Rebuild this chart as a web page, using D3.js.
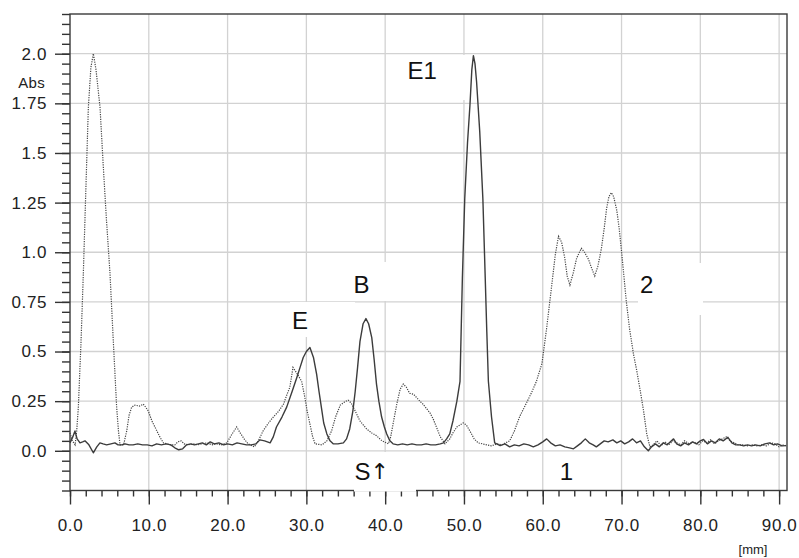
<!DOCTYPE html>
<meta charset="utf-8">
<title>Densitogram</title>
<script src="https://d3js.org/d3.v7.min.js"></script>
<style>
  body { margin: 0; background: #fff; }
  text { font-family: "Liberation Sans", Arial, sans-serif; }
</style>
<body>
<div id="my_dataviz"></div>
<script>

// tick values and labels
var xTicks = [0, 10, 20, 30, 40, 50, 60, 70, 80, 90];
var xLabels = ["0.0", "10.0", "20.0", "30.0", "40.0", "50.0", "60.0", "70.0", "80.0", "90.0"];
var yTicks = [0, 0.25, 0.5, 0.75, 1.0, 1.25, 1.5, 1.75, 2.0];
var yLabels = ["0.0", "0.25", "0.5", "0.75", "1.0", "1.25", "1.5", "1.75", "2.0"];

// track 1 (solid) : position [mm] / Abs
var solidX = [0.0, 0.35, 0.63, 0.9, 1.27, 1.6, 1.9, 2.4, 2.96, 3.4, 3.8, 4.2, 4.65, 5.2, 5.7, 6.1, 6.55, 7.0, 7.5, 8.0,
  8.6, 9.2, 9.8, 10.4, 11.0, 11.6, 12.2, 12.8, 13.3, 13.8, 14.3, 14.8, 15.3, 15.8, 16.3, 16.8, 17.3, 17.8, 18.3, 18.9,
  19.5, 20.0, 20.6, 21.2, 21.8, 22.4, 23.0, 23.6, 24.1, 24.7, 25.4, 25.8, 26.2, 26.9, 27.5, 28.2, 28.8, 29.2, 29.6, 30.0,
  30.45, 30.9, 31.3, 31.6, 31.9, 32.2, 32.6, 33.0, 33.4, 34.0, 34.7, 35.1, 35.5, 35.9, 36.2, 36.5, 36.8, 37.2, 37.56, 37.9,
  38.3, 38.6, 38.9, 39.2, 39.55, 39.9, 40.2, 40.6, 41.0, 41.6, 42.2, 42.8, 43.4, 44.0, 44.6, 45.2, 45.8, 46.4, 47.0, 47.4,
  47.8, 48.2, 48.6, 49.1, 49.5, 49.8, 50.1, 50.45, 50.76, 51.0, 51.2, 51.4, 51.6, 52.0, 52.4, 52.7, 52.9, 53.1, 53.5, 53.9,
  54.6, 55.2, 55.8, 56.4, 57.0, 57.6, 58.2, 58.8, 59.4, 60.0, 60.5, 61.0, 61.6, 62.2, 62.8, 63.4, 63.9, 64.4, 64.9, 65.4,
  65.9, 66.4, 66.8, 67.3, 67.8, 68.3, 68.9, 69.4, 69.9, 70.4, 70.9, 71.4, 71.9, 72.4, 72.9, 73.4, 73.8, 74.3, 74.8, 75.3,
  75.8, 76.2, 76.6, 77.0, 77.5, 78.0, 78.5, 79.0, 79.5, 80.0, 80.4, 80.9, 81.4, 81.9, 82.4, 82.9, 83.5, 84.0, 84.5, 85.0,
  85.5, 86.0, 86.5, 87.0, 87.6, 88.2, 88.8, 89.3, 89.8, 90.4, 90.9];
var solidY = [0.04, 0.07, 0.10, 0.06, 0.04, 0.045, 0.05, 0.03, -0.01, 0.02, 0.04, 0.035, 0.03, 0.035, 0.04, 0.03, 0.03, 0.035, 0.03, 0.03,
  0.035, 0.03, 0.03, 0.025, 0.035, 0.03, 0.035, 0.03, 0.015, 0.005, 0.01, 0.03, 0.035, 0.03, 0.035, 0.04, 0.03, 0.045, 0.035, 0.04,
  0.03, 0.035, 0.03, 0.04, 0.035, 0.03, 0.03, 0.035, 0.055, 0.05, 0.04, 0.07, 0.12, 0.17, 0.22, 0.30, 0.37, 0.42, 0.47, 0.50,
  0.52, 0.47, 0.386, 0.30, 0.22, 0.14, 0.085, 0.05, 0.035, 0.035, 0.04, 0.06, 0.11, 0.20, 0.30, 0.42, 0.55, 0.64, 0.666, 0.64,
  0.57, 0.46, 0.336, 0.25, 0.17, 0.12, 0.085, 0.05, 0.035, 0.03, 0.035, 0.03, 0.035, 0.03, 0.03, 0.035, 0.03, 0.03, 0.035, 0.04,
  0.06, 0.085, 0.15, 0.25, 0.35, 0.87, 1.27, 1.55, 1.74, 1.92, 1.99, 1.95, 1.86, 1.61, 1.27, 0.87, 0.6, 0.35, 0.17, 0.04,
  0.026, 0.035, 0.02, 0.03, 0.025, 0.035, 0.03, 0.02, 0.03, 0.045, 0.06, 0.04, 0.025, 0.03, 0.02, 0.015, 0.01, 0.025, 0.04, 0.06,
  0.04, 0.03, 0.02, 0.035, 0.05, 0.045, 0.055, 0.04, 0.05, 0.035, 0.045, 0.06, 0.04, 0.05, 0.02, 0.0, 0.02, 0.035, 0.02, 0.04,
  0.03, 0.045, 0.06, 0.035, 0.025, 0.04, 0.03, 0.045, 0.035, 0.05, 0.057, 0.035, 0.05, 0.04, 0.06, 0.05, 0.068, 0.04, 0.03, 0.03,
  0.025, 0.03, 0.025, 0.03, 0.025, 0.035, 0.04, 0.03, 0.035, 0.025, 0.026];

// track 2 (dotted)
var dotX = [0.0, 0.3, 0.65, 0.85, 1.06, 1.4, 1.69, 2.0, 2.33, 2.65, 2.96, 3.3, 3.81, 4.2, 4.6, 5.08, 5.5, 5.92, 6.15, 6.35,
  6.8, 7.2, 7.5, 7.83, 8.25, 8.8, 9.3, 9.6, 9.94, 10.4, 10.9, 11.4, 11.85, 12.3, 12.8, 13.3, 13.7, 14.1, 14.5, 15.0,
  15.6, 16.2, 16.8, 17.4, 18.0, 18.6, 19.2, 19.9, 20.5, 21.15, 21.6, 22.1, 22.6, 23.4, 23.9, 24.5, 25.2, 25.8, 26.5, 27.1,
  27.5, 27.9, 28.3, 28.8, 29.4, 29.8, 30.1, 30.45, 30.8, 31.1, 32.0, 32.6, 33.2, 33.7, 34.3, 34.8, 35.3, 35.7, 36.2, 36.8,
  37.65, 38.3, 38.9, 39.6, 40.4, 40.7, 41.0, 41.5, 41.9, 42.3, 42.7, 43.1, 43.6, 44.4, 44.8, 45.7, 46.1, 46.6, 47.0, 47.6,
  48.2, 48.6, 49.1, 49.9, 50.3, 50.75, 51.3, 51.8, 52.9, 53.5, 54.2, 54.8, 55.3, 55.8, 56.4, 57.1, 57.8, 58.6, 59.2, 59.9,
  60.5, 61.1, 61.6, 62.0, 62.4, 62.8, 63.1, 63.45, 63.9, 64.3, 64.9, 65.3, 65.8, 66.2, 66.6, 67.0, 67.45, 67.8, 68.1, 68.4,
  68.7, 69.0, 69.4, 69.7, 70.0, 70.3, 70.6, 71.0, 71.5, 71.9, 72.3, 72.8, 73.2, 73.6, 74.0, 74.5, 75.0, 75.5, 76.0, 76.5,
  77.0, 77.5, 78.0, 78.6, 79.2, 79.8, 80.3, 80.8, 81.3, 81.8, 82.3, 82.8, 83.3, 83.8, 84.3, 84.8, 85.4, 86.0, 86.6, 87.2,
  87.8, 88.4, 89.0, 89.5, 90.0, 90.6, 90.9];
var dotY = [0.09, 0.05, 0.03, 0.1, 0.22, 0.55, 0.89, 1.3, 1.73, 1.93, 2.0, 1.92, 1.73, 1.45, 1.18, 0.89, 0.55, 0.22, 0.1, 0.03,
  0.03, 0.1, 0.18, 0.22, 0.23, 0.225, 0.235, 0.22, 0.2, 0.15, 0.11, 0.07, 0.04, 0.035, 0.03, 0.03, 0.045, 0.05, 0.035, 0.03,
  0.035, 0.03, 0.035, 0.04, 0.03, 0.035, 0.03, 0.04, 0.08, 0.12, 0.09, 0.06, 0.035, 0.02, 0.05, 0.10, 0.14, 0.17, 0.2, 0.235,
  0.28, 0.32, 0.42, 0.39, 0.35, 0.27, 0.2, 0.135, 0.07, 0.035, 0.03, 0.05, 0.10, 0.17, 0.23, 0.245, 0.255, 0.24, 0.2, 0.15,
  0.11, 0.09, 0.076, 0.05, 0.035, 0.07, 0.135, 0.24, 0.31, 0.336, 0.32, 0.29, 0.285, 0.25, 0.235, 0.19, 0.16, 0.11, 0.07, 0.035,
  0.06, 0.09, 0.12, 0.14, 0.13, 0.10, 0.06, 0.04, 0.03, 0.025, 0.035, 0.03, 0.04, 0.05, 0.1, 0.175, 0.23, 0.295, 0.35, 0.44,
  0.62, 0.82, 0.99, 1.08, 1.05, 0.97, 0.88, 0.835, 0.9, 0.97, 1.02, 1.0, 0.965, 0.92, 0.88, 0.93, 1.02, 1.12, 1.22, 1.28,
  1.30, 1.28, 1.21, 1.12, 1.005, 0.88, 0.755, 0.62, 0.49, 0.41, 0.32, 0.2, 0.085, 0.02, 0.03, 0.05, 0.025, 0.045, 0.03, 0.05,
  0.04, 0.03, 0.05, 0.035, 0.045, 0.03, 0.05, 0.04, 0.055, 0.035, 0.05, 0.06, 0.07, 0.05, 0.04, 0.03, 0.03, 0.025, 0.03, 0.025,
  0.03, 0.025, 0.04, 0.035, 0.02, 0.03, 0.025];

// peak labels
var peakNames = ["E1", "E", "B", "2", "S", "1"];
var peakX = [44.7, 29.2, 37.0, 73.2, 38.3, 63.0];
var peakY = [1.92, 0.66, 0.84, 0.84, -0.1, -0.1];

var W = 799, H = 558;
var mLeft = 70, mRight = 787, mTop = 14, mBottom = 490.5;

var svg = d3.select("#my_dataviz")
  .append("svg")
    .attr("width", W)
    .attr("height", H);

svg.append("rect").attr("width", W).attr("height", H).attr("fill", "#fff");

var x = d3.scaleLinear().domain([0, 91]).range([mLeft, mRight]);
var y = d3.scaleLinear().domain([-0.2, 2.2]).range([mBottom, mTop]);

// grid
svg.append("g").selectAll("line")
  .data(xTicks.slice(1))
  .enter().append("line")
    .attr("x1", function(d) { return x(d); })
    .attr("x2", function(d) { return x(d); })
    .attr("y1", mTop).attr("y2", mBottom)
    .attr("stroke", "#d2d2d2").attr("stroke-width", 1.3);

svg.append("g").selectAll("line")
  .data(yTicks)
  .enter().append("line")
    .attr("x1", mLeft).attr("x2", mRight)
    .attr("y1", function(d) { return y(d); })
    .attr("y2", function(d) { return y(d); })
    .attr("stroke", "#d2d2d2").attr("stroke-width", 1.3);

// white boxes behind the labels (they hide the grid)
var boxes = [[395, 55, 70, 45], [290, 302, 65, 35], [345, 262, 75, 39], [638, 263, 65, 52], [353, 452, 64, 39]];
svg.append("g").selectAll("rect")
  .data(boxes)
  .enter().append("rect")
    .attr("x", function(d) { return d[0]; })
    .attr("y", function(d) { return d[1]; })
    .attr("width", function(d) { return d[2]; })
    .attr("height", function(d) { return d[3]; })
    .attr("fill", "#fff");

// axes
svg.append("g")
  .attr("transform", "translate(0," + mBottom + ")")
  .call(d3.axisBottom(x).tickValues(xTicks).tickSize(14).tickPadding(14)
    .tickFormat(function(d, i) { return xLabels[i]; }));
svg.append("g")
  .attr("transform", "translate(0," + mBottom + ")")
  .call(d3.axisBottom(x).tickValues(d3.range(0, 91, 2)).tickSize(6).tickFormat(""));

svg.append("g")
  .attr("transform", "translate(" + mLeft + ",0)")
  .call(d3.axisLeft(y).tickValues(yTicks).tickSize(15).tickPadding(8)
    .tickFormat(function(d, i) { return yLabels[i]; }));
svg.append("g")
  .attr("transform", "translate(" + mLeft + ",0)")
  .call(d3.axisLeft(y).tickValues(d3.range(-4, 45).map(function(k) { return k * 0.05; })).tickSize(8).tickFormat(""));

svg.selectAll(".domain").remove();
svg.selectAll(".tick line").attr("stroke", "#333").attr("stroke-width", 1.4);
svg.selectAll(".tick text")
  .attr("font-size", 17)
  .attr("letter-spacing", "0.6px")
  .attr("fill", "#222");

// frame
svg.append("rect")
  .attr("x", mLeft).attr("y", mTop)
  .attr("width", mRight - mLeft).attr("height", mBottom - mTop)
  .attr("fill", "none").attr("stroke", "#3a3a3a").attr("stroke-width", 1.4);
// bottom axis line cut by the S label box
svg.append("rect").attr("x", 354).attr("y", mBottom - 2).attr("width", 62).attr("height", 3).attr("fill", "#fff");

svg.append("text").text("Abs")
  .attr("x", 45).attr("y", 82).attr("text-anchor", "end").attr("dominant-baseline", "central")
  .attr("font-size", 15).attr("letter-spacing", "0.3px").attr("fill", "#222");
svg.append("text").text("[mm]")
  .attr("x", 753).attr("y", 549).attr("text-anchor", "middle").attr("dominant-baseline", "central")
  .attr("font-size", 13).attr("fill", "#222");

// traces
var line = d3.line()
  .x(function(d) { return x(d[0]); })
  .y(function(d) { return y(d[1]); });

svg.append("path")
  .datum(dotX.map(function(v, i) { return [v, dotY[i]]; }))
  .attr("d", line)
  .attr("fill", "none").attr("stroke", "#444").attr("stroke-width", 1.2)
  .attr("stroke-dasharray", "1.2,1.2");

svg.append("path")
  .datum(solidX.map(function(v, i) { return [v, solidY[i]]; }))
  .attr("d", line)
  .attr("fill", "none").attr("stroke", "#3c3c3c").attr("stroke-width", 1.4)
  .attr("stroke-linejoin", "round");

// peak labels
var lbl = svg.append("g").selectAll("text")
  .data(peakNames)
  .enter().append("text")
    .attr("x", function(d, i) { return x(peakX[i]); })
    .attr("y", function(d, i) { return y(peakY[i]); })
    .attr("text-anchor", "middle")
    .attr("dominant-baseline", "central")
    .attr("font-size", 24)
    .attr("fill", "#111");
lbl.append("tspan").text(function(d) { return d; });
// the start arrow after S, in a text font (not an emoji)
lbl.filter(function(d) { return d === "S"; })
  .append("tspan")
    .text("\u2191")
    .attr("font-family", "'DejaVu Sans'")
    .attr("font-size", 22)
    .attr("fill", "#111");

</script>
</body>
